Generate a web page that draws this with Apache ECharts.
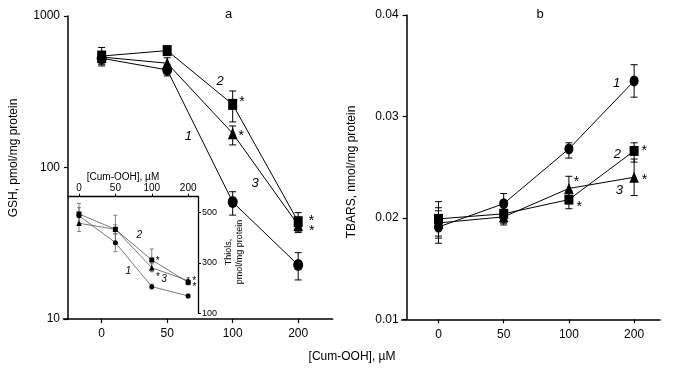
<!DOCTYPE html>
<html><head><meta charset="utf-8">
<script src="https://cdn.jsdelivr.net/npm/echarts@6/dist/echarts.min.js"></script>
<style>html,body{margin:0;padding:0;background:#fff}#c{width:673px;height:374px}</style>
</head><body><div id="c"></div>
<script>
// ---- data ----
const doseLabels = ['0', '50', '100', '200'];

// panel a: GSH, pmol/mg protein (log scale)
const gsh1 = [526, 441, 59.2, 22.7];
const gsh1Err = [[480, 575], [402, 480], [48.5, 69.2], [18.1, 27.4]];
const gsh2 = [544, 591, 261, 43.9];
const gsh2Err = [[468, 620], [565, 620], [200, 320], [37.2, 50.4]];
const gsh3 = [536, 488, 168, 41.7];
const gsh3Err = [[490, 580], [450, 530], [141, 188], [38, 46]];
const gsh2Marks = ['', '', '*', '*'];
const gsh3Marks = ['', '', '*', '*'];

// panel b: TBARS, nmol/mg protein
const tbars1 = [0.0191, 0.0214, 0.0268, 0.0335];
const tbars1Err = [[0.0175, 0.0207], [0.0193, 0.0224], [0.0259, 0.0274], [0.0319, 0.0351]];
const tbars2 = [0.0199, 0.0204, 0.0218, 0.0266];
const tbars2Err = [[0.0182, 0.0216], [0.0195, 0.0212], [0.0209, 0.0227], [0.0255, 0.0274]];
const tbars3 = [0.0195, 0.0201, 0.0229, 0.0240];
const tbars3Err = [[0.0180, 0.0210], [0.0195, 0.0208], [0.0218, 0.0241], [0.0222, 0.0258]];
const tbars2Marks = ['', '', '*', '*'];
const tbars3Marks = ['', '', '*', '*'];

// inset: Thiols, pmol/mg protein
const thiol1 = [488, 381, 206, 169];
const thiol1Err = [[455, 520], [345, 417], [196, 216], [162, 176]];
const thiol2 = [495, 434, 312, 223];
const thiol2Err = [[460, 537], [380, 490], [268, 356], [213, 233]];
const thiol3 = [458, 434, 281, 230];
const thiol3Err = [[425, 490], [415, 452], [265, 297], [218, 242]];
const thiol2Marks = ['', '', '*', '*'];
const thiol3Marks = ['', '', '*', '*'];

const gshTicks = [10, 100, 1000];
const tbarsTicks = [0.01, 0.02, 0.03, 0.04];
const thiolTicks = [100, 300, 500];

// ---- chart ----
const FF = '"Liberation Sans", Arial, Helvetica, sans-serif';
const idx = doseLabels.map((_, i) => i);

function lineSeries(vals, marks, symbol, size, xi, yi, opt) {
  return {
    type: 'line', xAxisIndex: xi, yAxisIndex: yi, z: 5,
    symbol: symbol, symbolSize: size, showAllSymbol: true,
    itemStyle: { color: '#000' },
    lineStyle: { color: opt.lineColor || '#000', width: opt.lineWidth || 1 },
    emphasis: { disabled: true }, animation: false,
    data: vals.map((v, i) => {
      const item = { value: [i, v] };
      if (marks && marks[i]) {
        const o = opt.markOffsets[i];
        item.label = {
          show: true, formatter: marks[i], position: 'right',
          distance: o[0], offset: [0, o[1]],
          color: '#000', fontSize: opt.markSize || 14, fontFamily: FF
        };
      }
      return item;
    })
  };
}

function errSeries(errs, xi, yi, cap, color, lw) {
  return {
    type: 'custom', xAxisIndex: xi, yAxisIndex: yi, z: 4, silent: true, animation: false,
    encode: { x: 0, y: [1, 2] },
    data: errs.map((e, i) => [i, e[0], e[1]]),
    renderItem: function (params, api) {
      const lo = api.coord([api.value(0), api.value(1)]);
      const hi = api.coord([api.value(0), api.value(2)]);
      const st = { stroke: color, lineWidth: lw };
      return {
        type: 'group', children: [
          { type: 'line', shape: { x1: lo[0], y1: lo[1], x2: hi[0], y2: hi[1] }, style: st },
          { type: 'line', shape: { x1: lo[0] - cap, y1: lo[1], x2: lo[0] + cap, y2: lo[1] }, style: st },
          { type: 'line', shape: { x1: hi[0] - cap, y1: hi[1], x2: hi[0] + cap, y2: hi[1] }, style: st }
        ]
      };
    }
  };
}

const axLine = { show: true, onZero: false, lineStyle: { color: '#000', width: 1.5 } };
const axTick = { show: true, length: 4, lineStyle: { color: '#000', width: 1.2 } };
const lbl = { color: '#000', fontSize: 12, fontFamily: FF };

function doseAxis(grid, min, max, extra) {
  return Object.assign({
    type: 'value', gridIndex: grid, min: min, max: max,
    axisLine: axLine,
    axisTick: Object.assign({}, axTick, { customValues: idx }),
    axisLabel: Object.assign({}, lbl, { customValues: idx, margin: 9, formatter: v => doseLabels[Math.round(v)] }),
    splitLine: { show: false }
  }, extra || {});
}

const option = {
  backgroundColor: '#fff',
  animation: false,
  grid: [
    { left: 63.3, top: 16, width: 269.4, height: 303 },
    { left: 401.7, top: 15, width: 258.3, height: 304.3 },
    { left: 68, top: 196.7, width: 130, height: 116.6 }
  ],
  xAxis: [
    doseAxis(0, -0.586, 3.527),
    doseAxis(1, -0.564, 3.397),
    {
      type: 'value', gridIndex: 2, position: 'top', min: -0.302, max: 3.27,
      axisLine: { show: true, onZero: false, lineStyle: { color: '#000', width: 1.3 } },
      axisTick: { show: true, length: 3, customValues: idx, lineStyle: { color: '#000', width: 1 } },
      axisLabel: { color: '#000', fontSize: 10, fontFamily: FF, margin: 3, customValues: idx, formatter: v => doseLabels[Math.round(v)] },
      splitLine: { show: false }
    }
  ],
  yAxis: [
    {
      type: 'log', logBase: 10, gridIndex: 0, min: 10, max: 1000, offset: -4.7,
      axisLine: axLine,
      axisTick: Object.assign({}, axTick, { customValues: gshTicks }),
      axisLabel: Object.assign({}, lbl, { margin: 8, customValues: gshTicks, formatter: v => String(Math.round(v)) }),
      splitLine: { show: false }, minorTick: { show: false }
    },
    {
      type: 'value', gridIndex: 1, min: 0.01, max: 0.04, offset: -5,
      axisLine: axLine,
      axisTick: Object.assign({}, axTick, { customValues: tbarsTicks }),
      axisLabel: Object.assign({}, lbl, { margin: 8, customValues: tbarsTicks, formatter: v => v.toFixed(2) }),
      splitLine: { show: false }
    },
    {
      type: 'value', gridIndex: 2, position: 'right', min: 100, max: 563.6,
      axisLine: { show: true, onZero: false, lineStyle: { color: '#000', width: 1.3 } },
      axisTick: { show: true, length: 3, customValues: thiolTicks, lineStyle: { color: '#000', width: 1 } },
      axisLabel: { color: '#000', fontSize: 9, fontFamily: FF, margin: 4, customValues: thiolTicks },
      splitLine: { show: false }
    }
  ],
  series: [
    // panel a
    errSeries(gsh1Err, 0, 0, 3.5, '#000', 1),
    errSeries(gsh2Err, 0, 0, 3.5, '#000', 1),
    errSeries(gsh3Err, 0, 0, 3.5, '#000', 1),
    lineSeries(gsh1, null, 'circle', [10, 12], 0, 0, {}),
    lineSeries(gsh3, gsh3Marks, 'triangle', [9.5, 12], 0, 0, { markOffsets: [null, null, [1, 2.5], [6, 6]] }),
    lineSeries(gsh2, gsh2Marks, 'rect', [9, 11], 0, 0, { markOffsets: [null, null, [2, -2], [6, -0.5]] }),
    // panel b
    errSeries(tbars1Err, 1, 1, 3.5, '#000', 1),
    errSeries(tbars2Err, 1, 1, 3.5, '#000', 1),
    errSeries(tbars3Err, 1, 1, 3.5, '#000', 1),
    lineSeries(tbars1, null, 'circle', [9, 11], 1, 1, {}),
    lineSeries(tbars3, tbars3Marks, 'triangle', [9.5, 11], 1, 1, { markOffsets: [null, null, [0, -6], [3, 2.5]] }),
    lineSeries(tbars2, tbars2Marks, 'rect', [9, 10], 1, 1, { markOffsets: [null, null, [3, 7.5], [3, 0.5]] }),
    // inset
    errSeries(thiol1Err, 2, 2, 2, '#666', 0.8),
    errSeries(thiol2Err, 2, 2, 2, '#666', 0.8),
    errSeries(thiol3Err, 2, 2, 2, '#666', 0.8),
    lineSeries(thiol1, null, 'circle', 5, 2, 2, { lineColor: '#555', lineWidth: 0.8 }),
    lineSeries(thiol3, thiol3Marks, 'triangle', 5.5, 2, 2, { lineColor: '#555', lineWidth: 0.8, markSize: 10, markOffsets: [null, null, [1.5, 9], [1.5, 7]] }),
    lineSeries(thiol2, thiol2Marks, 'rect', 5, 2, 2, { lineColor: '#555', lineWidth: 0.8, markSize: 10, markOffsets: [null, null, [1.5, 1], [1.5, -1]] })
  ],
  graphic: [
    { type: 'text', x: 228.7, y: 14, style: { text: 'a', fontSize: 13, fontFamily: FF, fill: '#000', align: 'center', verticalAlign: 'middle' } },
    { type: 'text', x: 540, y: 14, style: { text: 'b', fontSize: 13, fontFamily: FF, fill: '#000', align: 'center', verticalAlign: 'middle' } },
    { type: 'text', x: 14, y: 158, rotation: Math.PI / 2, style: { text: 'GSH, pmol/mg protein', fontSize: 12, fontFamily: FF, fill: '#000', align: 'center', verticalAlign: 'middle' } },
    { type: 'text', x: 352, y: 172, rotation: Math.PI / 2, style: { text: 'TBARS, nmol/mg protein', fontSize: 12, fontFamily: FF, fill: '#000', align: 'center', verticalAlign: 'middle' } },
    { type: 'text', x: 352, y: 357, style: { text: '[Cum-OOH], µM', fontSize: 12, fontFamily: FF, fill: '#000', align: 'center', verticalAlign: 'middle' } },
    { type: 'text', x: 123, y: 177, style: { text: '[Cum-OOH], µM', fontSize: 10, fontFamily: FF, fill: '#000', align: 'center', verticalAlign: 'middle' } },
    { type: 'text', x: 234, y: 252, rotation: Math.PI / 2, style: { text: 'Thiols,\npmol/mg protein', fontSize: 9, lineHeight: 11, fontFamily: FF, fill: '#000', align: 'center', verticalAlign: 'middle' } },
    // curve numbers
    { type: 'text', x: 188.3, y: 136.7, style: { text: '1', fontSize: 13, fontStyle: 'italic', fontFamily: FF, fill: '#000', align: 'center', verticalAlign: 'middle' } },
    { type: 'text', x: 220, y: 81.7, style: { text: '2', fontSize: 13, fontStyle: 'italic', fontFamily: FF, fill: '#000', align: 'center', verticalAlign: 'middle' } },
    { type: 'text', x: 255, y: 183, style: { text: '3', fontSize: 13, fontStyle: 'italic', fontFamily: FF, fill: '#000', align: 'center', verticalAlign: 'middle' } },
    { type: 'text', x: 616.7, y: 83.3, style: { text: '1', fontSize: 13, fontStyle: 'italic', fontFamily: FF, fill: '#000', align: 'center', verticalAlign: 'middle' } },
    { type: 'text', x: 617.3, y: 154.3, style: { text: '2', fontSize: 13, fontStyle: 'italic', fontFamily: FF, fill: '#000', align: 'center', verticalAlign: 'middle' } },
    { type: 'text', x: 619.3, y: 190.7, style: { text: '3', fontSize: 13, fontStyle: 'italic', fontFamily: FF, fill: '#000', align: 'center', verticalAlign: 'middle' } },
    { type: 'text', x: 128.3, y: 271.7, style: { text: '1', fontSize: 10, fontStyle: 'italic', fontFamily: FF, fill: '#000', align: 'center', verticalAlign: 'middle' } },
    { type: 'text', x: 139.3, y: 235, style: { text: '2', fontSize: 10, fontStyle: 'italic', fontFamily: FF, fill: '#000', align: 'center', verticalAlign: 'middle' } },
    { type: 'text', x: 164, y: 279.3, style: { text: '3', fontSize: 10, fontStyle: 'italic', fontFamily: FF, fill: '#000', align: 'center', verticalAlign: 'middle' } }
  ]
};

const chart = echarts.init(document.getElementById('c'), null, { renderer: 'canvas' });
chart.setOption(option);
</script>
</body></html>
